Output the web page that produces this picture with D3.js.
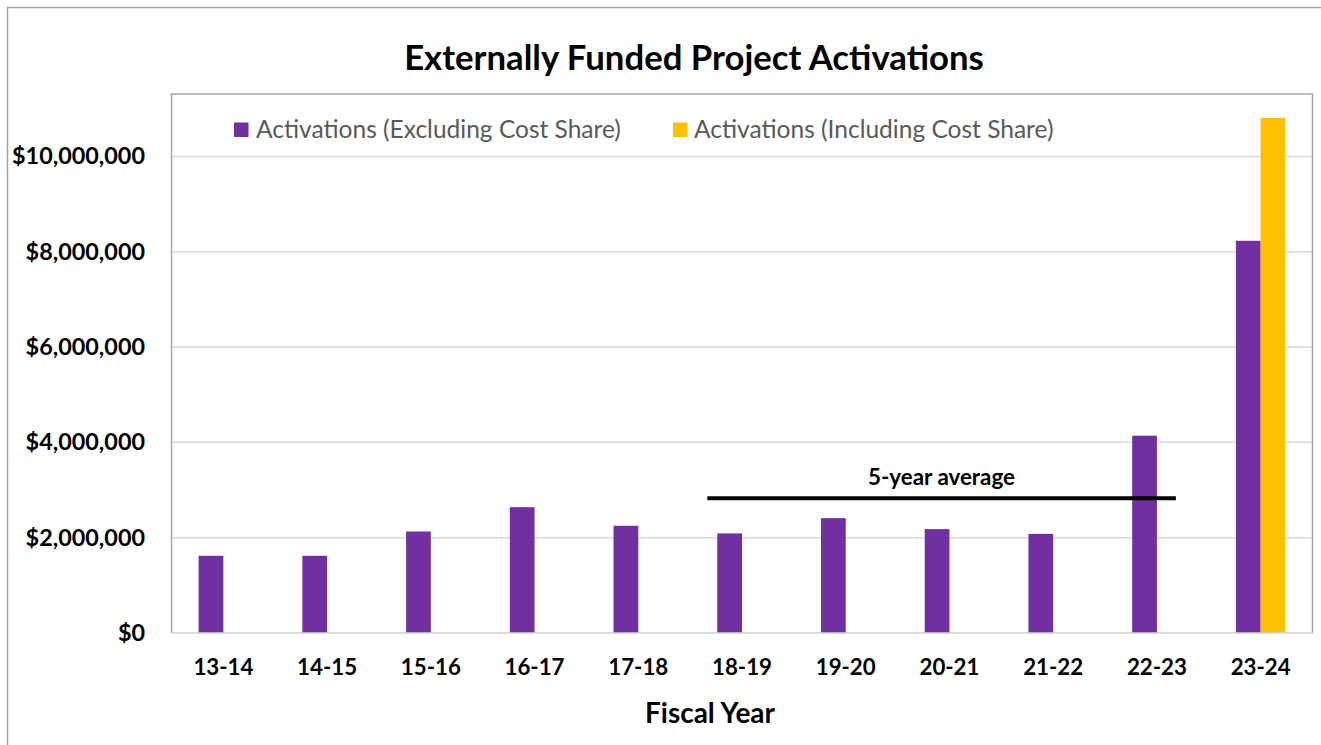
<!DOCTYPE html>
<html>
<head>
<meta charset="utf-8">
<script src="https://cdn.jsdelivr.net/npm/d3@7"></script>
<style>
  html, body { margin: 0; padding: 0; background: #fff; }
  svg { display: block; }
  text { font-family: Lato, "Open Sans", "Liberation Sans", sans-serif; }
</style>
</head>
<body>
<svg id="chart" width="1321" height="745"></svg>
<script>
// ---- data ----
const categories = ["13-14","14-15","15-16","16-17","17-18","18-19","19-20","20-21","21-22","22-23","23-24"];
const seriesNames = ["Activations (Excluding Cost Share)", "Activations (Including Cost Share)"];
const excludingValues = [1620000, 1620000, 2130000, 2640000, 2250000, 2090000, 2410000, 2180000, 2080000, 4140000, 8230000];
const includingValues = [null, null, null, null, null, null, null, null, null, null, 10810000];
const yTickValues = [0, 2000000, 4000000, 6000000, 8000000, 10000000];
const averageValue = 2830000;
const averageFrom = "18-19";
const averageTo = "22-23";
const averageLabel = "5-year average";
const titleText = "Externally Funded Project Activations";
const xTitleText = "Fiscal Year";
const colors = ["#7030A0", "#FFC000"];

// ---- layout ----
const svg = d3.select("#chart");
const W = 1321, H = 745;
const plot = { left: 171.5, right: 1312.5, top: 94, bottom: 633 };

svg.append("rect").attr("x", 0).attr("y", 0).attr("width", W).attr("height", H).attr("fill", "#fff");
// outer chart border
svg.append("rect").attr("x", 7.5).attr("y", 7.5).attr("width", W).attr("height", H)
  .attr("fill", "none").attr("stroke", "#a6a6a6").attr("stroke-width", 1.5);

const x0 = d3.scaleBand().domain(categories).range([plot.left, plot.right]).paddingInner(0).paddingOuter(0);
const x1 = d3.scaleBand().domain(seriesNames).range([0, x0.bandwidth()]).paddingInner(0).paddingOuter(1.096);
const y = d3.scaleLinear().domain([0, 11310000]).range([plot.bottom, plot.top]);

// fit a text element to a target width
function fit(sel, target) {
  sel.attr("font-size", 100);
  const len = sel.node().getComputedTextLength();
  sel.attr("font-size", 100 * target / len);
  return 100 * target / len;
}

// gridlines
svg.append("g").selectAll("line").data(yTickValues).join("line")
  .attr("x1", plot.left).attr("x2", plot.right)
  .attr("y1", d => y(d)).attr("y2", d => y(d))
  .attr("stroke", "#d9d9d9").attr("stroke-width", 1.5);

// plot area border (left, top, right)
svg.append("path")
  .attr("d", `M${plot.left},${plot.bottom}V${plot.top}H${plot.right}V${plot.bottom}`)
  .attr("fill", "none").attr("stroke", "#a6a6a6").attr("stroke-width", 1.5);

// bars
const rows = categories.map((c, i) => ({ cat: c, vals: [excludingValues[i], includingValues[i]] }));
const groups = svg.append("g").selectAll("g").data(rows).join("g")
  .attr("transform", d => `translate(${x0(d.cat)},0)`);
groups.selectAll("rect")
  .data(d => d.vals.map((v, k) => ({ name: seriesNames[k], v, k })).filter(e => e.v != null))
  .join("rect")
  .attr("x", e => x1(e.name))
  .attr("width", x1.bandwidth())
  .attr("y", e => y(e.v))
  .attr("height", e => y(0) - y(e.v))
  .attr("fill", e => colors[e.k]);

// redraw baseline over bars
svg.append("line").attr("x1", plot.left).attr("x2", plot.right)
  .attr("y1", y(0)).attr("y2", y(0)).attr("stroke", "#d9d9d9").attr("stroke-width", 1.5);

// y axis labels
const fmt = v => "$" + d3.format(",")(v);
const yLab = svg.append("g").selectAll("text").data(yTickValues).join("text")
  .attr("x", 145).attr("y", d => y(d) + 8)
  .attr("text-anchor", "end").attr("font-weight", "bold").attr("fill", "#000")
  .text(fmt);
const ySize = fit(yLab.filter(d => d === 10000000), 133);
yLab.attr("font-size", ySize);

// x axis labels
const xLab = svg.append("g").selectAll("text").data(categories).join("text")
  .attr("x", d => x0(d) + x0.bandwidth() / 2).attr("y", 675)
  .attr("text-anchor", "middle").attr("font-weight", "bold").attr("fill", "#000")
  .text(d => d);
const xSize = fit(xLab.filter((d, i) => i === 0), 60);
xLab.attr("font-size", xSize);

// title
const title = svg.append("text").attr("x", 694).attr("y", 70)
  .attr("text-anchor", "middle").attr("font-weight", "bold").attr("fill", "#000")
  .text(titleText);
fit(title, 580);

// x axis title
const xt = svg.append("text").attr("x", 710).attr("y", 723)
  .attr("text-anchor", "middle").attr("font-weight", "bold").attr("fill", "#000")
  .text(xTitleText);
fit(xt, 130);

// legend
const legendPos = [{ sx: 234, tx: 256 }, { sx: 673, tx: 694 }];
const lg = svg.append("g").selectAll("g").data(seriesNames).join("g");
lg.append("rect").attr("x", (d, i) => legendPos[i].sx).attr("y", 122.5)
  .attr("width", 14.5).attr("height", 14.5).attr("fill", (d, i) => colors[i]);
const lgText = lg.append("text").attr("x", (d, i) => legendPos[i].tx).attr("y", 137.5)
  .attr("fill", "#595959").text(d => d);
const lSize = fit(lgText.filter((d, i) => i === 0), 365);
lgText.attr("font-size", lSize);

// 5-year average line
const ax1 = x0(averageFrom) + 0.166 * x0.bandwidth();
const ax2 = x0(averageTo) + 0.683 * x0.bandwidth();
svg.append("line").attr("x1", ax1).attr("x2", ax2)
  .attr("y1", y(averageValue)).attr("y2", y(averageValue))
  .attr("stroke", "#000").attr("stroke-width", 4);
const avgT = svg.append("text").attr("x", 941.5).attr("y", 485)
  .attr("text-anchor", "middle").attr("font-weight", "bold").attr("fill", "#000")
  .text(averageLabel);
fit(avgT, 147);
</script>
</body>
</html>
